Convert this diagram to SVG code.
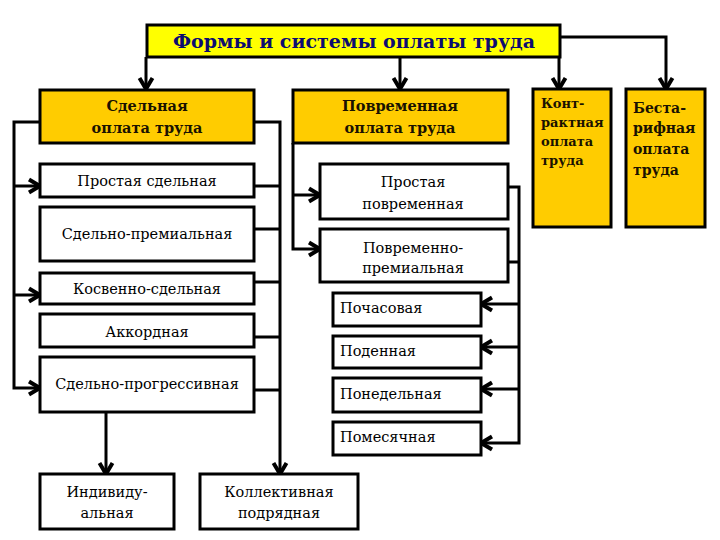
<svg xmlns="http://www.w3.org/2000/svg" width="720" height="540" viewBox="0 0 720 540">
<style>
.box{fill:#fff;stroke:#000;stroke-width:3}
.gold{fill:#ffcc00;stroke:#000;stroke-width:3}
.title{fill:#ffff00;stroke:#000;stroke-width:3}
.hd{font-family:"DejaVu Serif",serif;font-weight:bold;font-size:14.5px;fill:#1a1200}
.sub{font-family:"DejaVu Serif",serif;font-size:14.5px;fill:#000}
.c{text-anchor:middle}
.ln{fill:none;stroke:#000;stroke-width:3}
.ar{fill:none;stroke:#000;stroke-width:3;marker-end:url(#ah)}
</style>
<defs>
<marker id="ah" markerUnits="userSpaceOnUse" markerWidth="18" markerHeight="18" viewBox="0 0 18 18" refX="15" refY="9" orient="auto">
<path d="M4,2.5 L15,9 L4,15.5" fill="none" stroke="#000" stroke-width="4"/>
</marker>
</defs>
<rect width="720" height="540" fill="#fff"/>

<g id="connectors">
<path class="ar" d="M146,57 V89"/>
<path class="ar" d="M400,57 V89"/>
<path class="ar" d="M559,57 V89"/>
<path class="ar" d="M560,37 H666 V89"/>
<path class="ar" d="M40,122 H14 V388 H40"/>
<path class="ar" d="M14,186 H40"/>
<path class="ar" d="M14,295 H40"/>
<path class="ar" d="M254,122 H280 V474"/>
<path class="ln" d="M254,186 H280 M254,229 H280 M254,282 H280 M254,337 H280 M254,390 H280"/>
<path class="ar" d="M106,412 V474"/>
<path class="ar" d="M293,143 V249 H320"/>
<path class="ar" d="M293,195 H320"/>
<path class="ar" d="M508,187 H519 V443 H481"/>
<path class="ln" d="M508,262 H519"/>
<path class="ar" d="M519,304 H481"/>
<path class="ar" d="M519,347 H481"/>
<path class="ar" d="M519,389 H481"/>
</g>

<g id="title">
<rect class="title" x="147" y="25" width="413" height="32"/>
<text x="354" y="48" text-anchor="middle" font-family="DejaVu Serif, serif" font-weight="bold" font-size="19" fill="#0c0c70">Формы и системы оплаты труда</text>
</g>

<g id="sdelnaya">
<rect class="gold" x="40" y="90" width="214" height="53"/>
<text class="hd c" x="147" y="111">Сдельная</text>
<text class="hd c" x="147" y="133">оплата труда</text>
</g>
<g id="povremennaya">
<rect class="gold" x="293" y="90" width="215" height="53"/>
<text class="hd c" x="400" y="111">Повременная</text>
<text class="hd c" x="400" y="133">оплата труда</text>
</g>
<g id="kontraktnaya">
<rect class="gold" x="533" y="89" width="78" height="138"/>
<text class="hd" x="541" y="108" style="font-size:13px">Конт-</text>
<text class="hd" x="541" y="127" style="font-size:13px">рактная</text>
<text class="hd" x="541" y="146" style="font-size:13px">оплата</text>
<text class="hd" x="541" y="165" style="font-size:13px">труда</text>
</g>
<g id="bestarifnaya">
<rect class="gold" x="626" y="89" width="79" height="138"/>
<text class="hd" x="633" y="113" style="font-size:14px">Беста-</text>
<text class="hd" x="633" y="133" style="font-size:14px">рифная</text>
<text class="hd" x="633" y="154" style="font-size:14px">оплата</text>
<text class="hd" x="633" y="175" style="font-size:14px">труда</text>
</g>

<g id="prostaya-sdelnaya">
<rect class="box" x="40" y="164" width="214" height="33"/>
<text class="sub c" x="147" y="186">Простая сдельная</text>
</g>
<g id="sdelno-premialnaya">
<rect class="box" x="40" y="207" width="214" height="54"/>
<text class="sub c" x="147" y="239">Сдельно-премиальная</text>
</g>
<g id="kosvenno-sdelnaya">
<rect class="box" x="40" y="273" width="214" height="31"/>
<text class="sub c" x="147" y="294">Косвенно-сдельная</text>
</g>
<g id="akkordnaya">
<rect class="box" x="40" y="314" width="214" height="33"/>
<text class="sub c" x="147" y="337">Аккордная</text>
</g>
<g id="sdelno-progressivnaya">
<rect class="box" x="40" y="357" width="214" height="55"/>
<text class="sub c" x="147" y="389">Сдельно-прогрессивная</text>
</g>

<g id="individualnaya">
<rect class="box" x="40" y="474" width="134" height="55"/>
<text class="sub c" x="107" y="497">Индивиду-</text>
<text class="sub c" x="107" y="518">альная</text>
</g>
<g id="kollektivnaya">
<rect class="box" x="200" y="474" width="158" height="55"/>
<text class="sub c" x="279" y="497">Коллективная</text>
<text class="sub c" x="279" y="518">подрядная</text>
</g>

<g id="prostaya-povremennaya">
<rect class="box" x="320" y="164" width="188" height="55"/>
<text class="sub c" x="413" y="187">Простая</text>
<text class="sub c" x="413" y="209">повременная</text>
</g>
<g id="povremenno-premialnaya">
<rect class="box" x="320" y="229" width="188" height="53"/>
<text class="sub c" x="413" y="253">Повременно-</text>
<text class="sub c" x="413" y="273">премиальная</text>
</g>
<g id="pochasovaya">
<rect class="box" x="333" y="293" width="148" height="33"/>
<text class="sub" x="340" y="313">Почасовая</text>
</g>
<g id="podennaya">
<rect class="box" x="333" y="336" width="148" height="32"/>
<text class="sub" x="340" y="356">Поденная</text>
</g>
<g id="ponedelnaya">
<rect class="box" x="333" y="378" width="148" height="34"/>
<text class="sub" x="340" y="399">Понедельная</text>
</g>
<g id="pomesyachnaya">
<rect class="box" x="333" y="422" width="148" height="33"/>
<text class="sub" x="340" y="442">Помесячная</text>
</g>
</svg>
